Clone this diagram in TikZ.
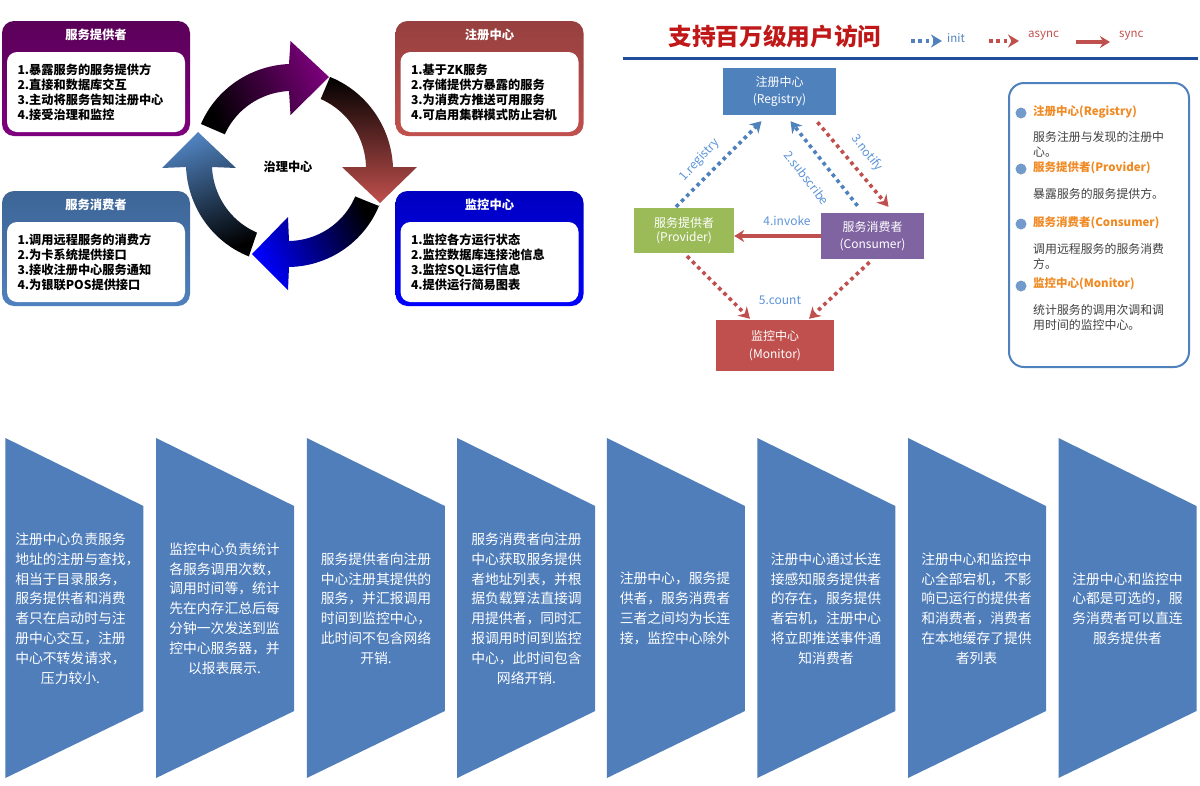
\documentclass[tikz,border=0pt]{standalone}
\usepackage{fontspec}
\setmainfont{Noto Sans CJK SC}
\usetikzlibrary{arrows.meta}
\definecolor{regblue}{HTML}{4F81BD}
\definecolor{monred}{HTML}{C0504D}
\definecolor{provgreen}{HTML}{9BBB59}
\definecolor{consviolet}{HTML}{8064A2}
\definecolor{stepblue}{HTML}{4F7EBB}
\definecolor{headorange}{HTML}{F08A24}
\definecolor{titlered}{HTML}{C01818}
\definecolor{labelblue}{HTML}{5B93D8}
\definecolor{bodygray}{HTML}{404040}
\definecolor{rulenavy}{HTML}{1F4E9A}
\definecolor{headpurple}{HTML}{7A007A}
\def\arcpart#1#2#3#4{-- plot[domain=#1:#2, samples=30, variable=\t]({289+((#3)+((#4)-(#3))*(\t-(#1))/((#2)-(#1)))*cos(\t)},{167+((#3)+((#4)-(#3))*(\t-(#1))/((#2)-(#1)))*sin(\t)})}
\tikzset{
	panel/.style={rounded corners=12pt, minimum width=188pt, minimum height=115pt, inner sep=0pt},
	panelbody/.style={fill=white, rounded corners=10pt, minimum width=178pt, minimum height=80pt, inner xsep=10.5pt, inner ysep=0pt, text width=157pt, align=left, text=black, font=\fontsize{12.2}{15}\selectfont\bfseries},
	paneltitle/.style={text=white, inner sep=0pt, font=\fontsize{12.3}{14}\selectfont\bfseries},
	box/.style={inner sep=0pt, align=center, text=white, font=\fontsize{12}{17.5}\selectfont},
	initline/.style={regblue, line width=3.6pt, dash pattern=on 3.6pt off 3.8pt, -{Stealth[length=11pt,width=13pt]}},
	asyncline/.style={monred, line width=3.6pt, dash pattern=on 3.6pt off 3.8pt, -{Stealth[length=11pt,width=13pt]}},
	syncline/.style={monred, line width=3.6pt, -{Stealth[length=10pt,width=12pt]}},
	flowlabel/.style={labelblue, inner sep=0pt, font=\fontsize{12}{14}\selectfont},
	legendlabel/.style={inner sep=0pt, font=\fontsize{11.5}{14}\selectfont},
	sidehead/.style={headorange, anchor=west, inner sep=0pt, font=\fontsize{11.5}{14}\selectfont\bfseries},
	sidetext/.style={bodygray, anchor=north west, inner sep=0pt, text width=136pt, align=left, font=\fontsize{11.9}{15.2}\selectfont},
	dotbullet/.style={circle, fill=regblue!80, minimum size=11pt, inner sep=0pt},
	steptext/.style={text=white, inner sep=0pt, align=center, font=\fontsize{13.8}{19.8}\selectfont}
}
\begin{document}
\begin{tikzpicture}[x=1pt, y=-1pt, line join=round]
	\useasboundingbox (0,0) rectangle (1200,785);
	%Four panels of the left part
	\foreach \pname/\x/\y/\topc/\botc/\ttl/\body in {
		provider/96/78.5/{5A0058}/{7E007E}/服务提供者/{1.暴露服务的服务提供方\\2.直接和数据库交互\\3.主动将服务告知注册中心\\4.接受治理和监控},
		registry/489.5/78.5/{96403F}/{C0504D}/注册中心/{1.基于ZK服务\\2.存储提供方暴露的服务\\3.为消费方推送可用服务\\4.可启用集群模式防止宕机},
		consumer/96/248.5/{3D6596}/{4F81BD}/服务消费者/{1.调用远程服务的消费方\\2.为卡系统提供接口\\3.接收注册中心服务通知\\4.为银联POS提供接口},
		monitor/489.5/248.5/{0000C0}/{0000FF}/监控中心/{1.监控各方运行状态\\2.监控数据库连接池信息\\3.监控SQL运行信息\\4.提供运行简易图表}}{
		\definecolor{ptop}{HTML}{\topc}
		\definecolor{pbot}{HTML}{\botc}
		\node[panel, top color=ptop, bottom color=pbot] (\pname) at (\x,\y) {};
		\node[paneltitle] (\pname title) at (\x,\y-43.5) {\ttl};
		\node[panelbody] (\pname body) at (\x,\y+13.5) {\body};
	}
	%Cycle of four arrows
	\shade[top color=headpurple, bottom color=black, shading angle=-65] (201,124) \arcpart{206}{270}{98}{103} -- (290.5,41) -- (329,77) -- (290.5,115) \arcpart{270}{207}{76}{72} -- cycle;
	\shade[top color=monred, bottom color=black, shading angle=180] (330,77) \arcpart{295}{360}{99}{104} -- (417,167) -- (380,203) -- (342,167) \arcpart{360}{295}{77}{75} -- cycle;
	\shade[top color=blue, bottom color=black, shading angle=115] (379,206) \arcpart{23}{90}{98}{100} -- (288,290) -- (252,254) -- (288,217) \arcpart{90}{24}{74}{72.5} -- cycle;
	\shade[top color=regblue, bottom color=black, shading angle=20] (249,256) \arcpart{114}{180}{98}{103} -- (162,168) -- (198,132) -- (236,168) \arcpart{180}{116}{77}{73} -- cycle;
	\node[inner sep=0pt, font=\fontsize{12.2}{14}\selectfont\bfseries] (govern) at (288,167) {治理中心};
	%Heading and legend
	\node[titlered, inner sep=0pt, font=\fontsize{23.7}{26}\selectfont\bfseries] (heading) at (775,36) {支持百万级用户访问};
	\draw[draw=rulenavy, line width=3pt] (623,58) -- (1198,58);
	\coordinate (inita) at (911,41);
	\coordinate (initb) at (942,41);
	\coordinate (asynca) at (989,41);
	\coordinate (asyncb) at (1019,41);
	\coordinate (synca) at (1076,42);
	\coordinate (syncb) at (1110,42);
	\draw[initline] (inita) -- (initb);
	\draw[asyncline] (asynca) -- (asyncb);
	\draw[syncline] (synca) -- (syncb);
	\node[legendlabel, regblue, anchor=west] (initl) at (947,38) {init};
	\node[legendlabel, monred, anchor=west] (asyncl) at (1028,36) {async};
	\node[legendlabel, monred, anchor=west] (syncl) at (1119,36) {sync};
	%Boxes of the flow
	\node[box, fill=regblue, minimum width=113pt, minimum height=47pt] (reg) at (779.5,91.5) {注册中心\\(Registry)};
	\node[box, fill=provgreen, minimum width=100pt, minimum height=45pt, font=\fontsize{12}{13.5}\selectfont] (prov) at (684,230.5) {服务提供者\\(Provider)};
	\node[box, fill=consviolet, minimum width=103pt, minimum height=46pt] (cons) at (872.5,236) {服务消费者\\(Consumer)};
	\node[box, fill=monred, minimum width=118pt, minimum height=51pt] (mon) at (775,345.5) {监控中心\\(Monitor)};
	%Connectors of the flow
	\draw[initline] ([xshift=-8pt,yshift=1pt]prov.north) -- ([xshift=-18pt,yshift=-6pt]reg.south);
	\draw[initline] ([xshift=-15pt,yshift=7pt]cons.north) -- ([xshift=11pt,yshift=-6pt]reg.south);
	\draw[asyncline] ([xshift=38pt,yshift=-7pt]reg.south) -- ([xshift=16pt,yshift=6pt]cons.north);
	\draw[syncline] ([yshift=0pt]cons.west) -- (cons.west -| prov.east);
	\draw[asyncline] ([xshift=3pt,yshift=-3pt]prov.south) -- ([xshift=-25pt,yshift=1pt]mon.north);
	\draw[asyncline] ([xshift=-3pt,yshift=-3pt]cons.south) -- ([xshift=34pt,yshift=1pt]mon.north);
	\node[flowlabel, rotate=48] (lregistry) at (700,160) {1.registry};
	\node[flowlabel, rotate=-52] (lsubscribe) at (807,178) {2.subscribe};
	\node[flowlabel, rotate=-52] (lnotify) at (867,153) {3.notify};
	\node[flowlabel] (linvoke) at (787,221) {4.invoke};
	\node[flowlabel] (lcount) at (780,300) {5.count};
	%Side panel
	\draw[regblue, line width=2pt, rounded corners=15pt] (1009,83) rectangle (1189,367);
	\foreach \n/\yh/\yt/\yb/\hd/\tx in {
		1/112/131/113/注册中心(Registry)/{服务注册与发现的注册中\\心。},
		2/168/188/169/服务提供者(Provider)/{暴露服务的服务提供方。},
		3/223/243/224/服务消费者(Consumer)/{调用远程服务的服务消费\\方。},
		4/284/304/286/监控中心(Monitor)/{统计服务的调用次调和调\\用时间的监控中心。}}{
		\node[dotbullet] (bullet\n) at (1021,\yb) {};
		\node[sidehead] (sidehead\n) at (1033,\yh) {\hd};
		\node[sidetext] (sidetext\n) at (1033,\yt) {\tx};
	}
	%Eight shapes of the lower part
	\foreach \i/\x/\tx/\txt in {
		1/5.4/70.5/{注册中心负责服务\\地址的注册与查找\rlap{，}\\相当于目录服务，\\服务提供者和消费\\者只在启动时与注\\册中心交互，注册\\中心不转发请求，\\压力较小.},
		2/156.1/224.5/{监控中心负责统计\\各服务调用次数，\\调用时间等，统计\\先在内存汇总后每\\分钟一次发送到监\\控中心服务器，并\\以报表展示.},
		3/306.8/376/{服务提供者向注册\\中心注册其提供的\\服务，并汇报调用\\时间到监控中心，\\此时间不包含网络\\开销.},
		4/457.2/526.5/{服务消费者向注册\\中心获取服务提供\\者地址列表，并根\\据负载算法直接调\\用提供者，同时汇\\报调用时间到监控\\中心，此时间包含\\网络开销.},
		5/606.9/675/{注册中心，服务提\\供者，服务消费者\\三者之间均为长连\\接，监控中心除外},
		6/757.3/826/{注册中心通过长连\\接感知服务提供者\\的存在，服务提供\\者宕机，注册中心\\将立即推送事件通\\知消费者},
		7/908/976.5/{注册中心和监控中\\心全部宕机，不影\\响已运行的提供者\\和消费者，消费者\\在本地缓存了提供\\者列表},
		8/1058.5/1127.5/{注册中心和监控中\\心都是可选的，服\\务消费者可以直连\\服务提供者}}{
		\fill[stepblue] (\x,438) -- (\x+138,506) -- (\x+138,711) -- (\x,778) -- cycle;
		\node[steptext] (step\i) at (\tx,608.5) {\txt};
	}
\end{tikzpicture}
\end{document}
